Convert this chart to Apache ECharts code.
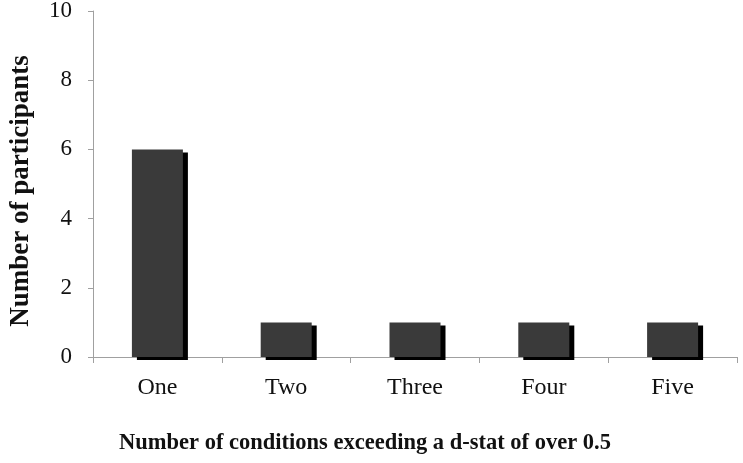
<!DOCTYPE html>
<html>
<head>
<meta charset="utf-8">
<script src="https://cdn.jsdelivr.net/npm/echarts@6/dist/echarts.min.js"></script>
<style>html,body{margin:0;padding:0;background:#fff;}#c{width:743px;height:463px;}</style>
</head>
<body>
<div id="c"></div>
<script>
const categories = ['One', 'Two', 'Three', 'Four', 'Five'];
const participants = [6, 1, 1, 1, 1];
const yTicks = { min: 0, max: 10, interval: 2 };
const xTitle = 'Number of conditions exceeding a d-stat of over 0.5';
const yTitle = 'Number of participants';

const chart = echarts.init(document.getElementById('c'), null, { renderer: 'canvas' });
const font = '"Liberation Serif", "Times New Roman", serif';
chart.setOption({
  animation: false,
  backgroundColor: '#ffffff',
  grid: { left: 93, right: 6, top: 11, bottom: 106, containLabel: false, outerBoundsMode: 'none' },
  xAxis: {
    type: 'category',
    data: categories,
    name: xTitle,
    nameLocation: 'middle',
    nameGap: 75,
    nameTextStyle: { fontFamily: font, fontWeight: 'bold', fontSize: 22.5, color: '#111', padding: [0, 100, 0, 0] },
    axisLine: { lineStyle: { color: '#a0a0a0', width: 1 } },
    axisTick: { show: true, alignWithLabel: false, length: 6, lineStyle: { color: '#a0a0a0' } },
    axisLabel: { fontFamily: font, fontSize: 24, color: '#111', margin: 19 },
    splitLine: { show: false }
  },
  yAxis: {
    type: 'value',
    min: yTicks.min,
    max: yTicks.max,
    interval: yTicks.interval,
    name: yTitle,
    nameLocation: 'middle',
    nameGap: 58,
    nameRotate: 90,
    nameTextStyle: { fontFamily: font, fontWeight: 'bold', fontSize: 27, color: '#111', padding: [0, 14, 0, 0] },
    axisLine: { show: true, lineStyle: { color: '#a0a0a0', width: 1 } },
    axisTick: { show: true, length: 5, lineStyle: { color: '#a0a0a0' } },
    axisLabel: { fontFamily: font, fontSize: 23, color: '#111', margin: 21 },
    splitLine: { show: false }
  },
  series: [{
    type: 'bar',
    data: participants,
    barWidth: 51,
    itemStyle: {
      color: '#3a3a3a',
      shadowColor: '#000000',
      shadowOffsetX: 5,
      shadowOffsetY: 3,
      shadowBlur: 0
    }
  }]
});
</script>
</body>
</html>
